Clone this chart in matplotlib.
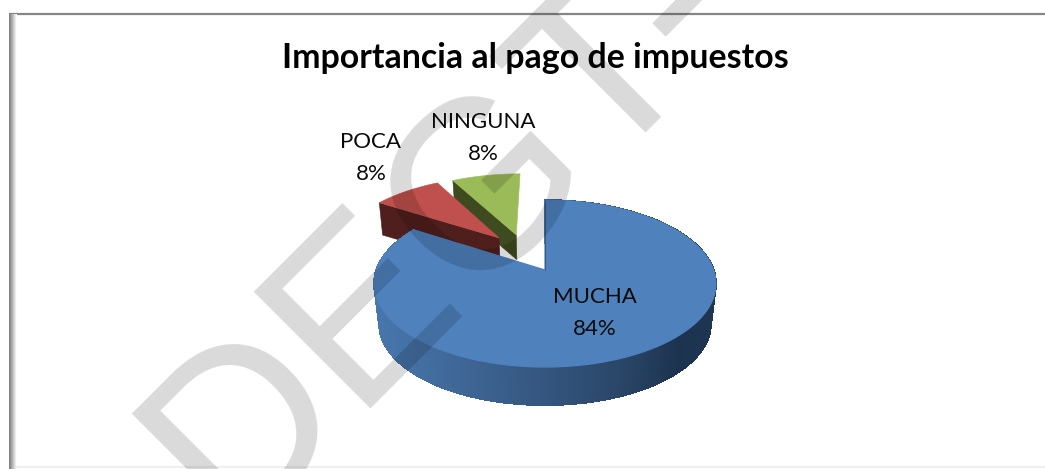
import numpy as np
import matplotlib
matplotlib.use("Agg")
import matplotlib.pyplot as plt
from matplotlib.patches import Polygon, Rectangle
from matplotlib.colors import to_rgb

categories = ["MUCHA", "POCA", "NINGUNA"]
values = [84, 8, 8]
title = "Importancia al pago de impuestos"
watermark = "DEGT-"

# layout / style
CX, CY = 545.0, 270.0
RX, RY, K = 168.7, 81.3, 0.162
top_colors = ["#4f81bd", "#c0504d", "#9bbb59"]
side_colors = ["#1f3550", "#4f1f1d", "#3e4a20"]
offsets = [(0, 0), (-0.29, 0.42), (-0.183, 0.463)]
depths = [41, 31, 24]
scales = [0.97, 0.98, 0.98]
label_pos = [(595, 313), (371, 158), (483, 138)]

fig = plt.figure(figsize=(10.45, 4.69), dpi=100)
ax = fig.add_axes([0, 0, 1, 1])
ax.set_xlim(0, 1045)
ax.set_ylim(469, 0)
ax.axis("off")


def project(u, v, depth=0.0, s=1.0):
    w = 1 + K * v
    return CX + s * RX * u / w, CY + depth - s * RY * v / w


def rim(a0, a1, off, n=120):
    a = np.radians(np.linspace(a0, a1, n))
    return np.sin(a) + off[0], np.cos(a) + off[1]


# slice angles, clockwise from 12 o'clock
edges = np.concatenate([[0], np.cumsum(values)]) / sum(values) * 360


def sector_xy(i, depth=0.0, s=1.0):
    u, v = rim(edges[i], edges[i + 1], offsets[i])
    u = np.concatenate([[offsets[i][0]], u])
    v = np.concatenate([[offsets[i][1]], v])
    x, y = project(u, v, depth, s)
    return np.column_stack([x, y])


# exploded slices, far first
for i in (2, 1):
    d, s = depths[i], scales[i]
    u0, v0 = offsets[i]
    ue, ve = rim(edges[i], edges[i], offsets[i], 1)
    a = project(u0, v0)
    b = project(ue[0], ve[0])
    c = project(ue[0], ve[0], d, s)
    e = project(u0, v0, d, s)
    ax.add_patch(Polygon([a, b, c, e], closed=True, fc=side_colors[i], ec=side_colors[i], lw=0.4, zorder=2 + (3 - i)))
    xy = sector_xy(i)
    ax.add_patch(Polygon(xy, closed=True, fc=top_colors[i], ec=top_colors[i], lw=0.4, zorder=2.5 + (3 - i)))

# main slice: side wall as graded strips
grad_x = [375, 500, 620, 680, 717]
grad_c = np.array([to_rgb(c) for c in ["#4877ad", "#3a5f8c", "#2a4668", "#1c3350", "#1f3550"]])
u, v = rim(edges[0], edges[1], offsets[0], 300)
xt, yt = project(u, v)
xb, yb = project(u, v, depths[0], scales[0])
order = np.argsort(-v[:-1])
for j in order:
    mx = (xt[j] + xt[j + 1]) / 2
    col = [np.interp(mx, grad_x, grad_c[:, k]) for k in range(3)]
    ax.add_patch(Polygon([(xt[j], yt[j]), (xt[j + 1], yt[j + 1]), (xb[j + 1], yb[j + 1]), (xb[j], yb[j])],
                         closed=True, fc=col, ec=col, lw=0.6, antialiased=False, zorder=6))
xy = sector_xy(0)
ax.add_patch(Polygon(xy, closed=True, fc=top_colors[0], ec=top_colors[0], lw=0.9, zorder=7))
x0, y0 = project(0, 0)
x1, y1 = project(0, 1)
ax.plot([x0 - 0.5, x1 - 0.5], [y0, y1], color="#1f3550", lw=0.5, alpha=0.7, zorder=7.5)

# labels
for name, val, (lx, ly) in zip(categories, values, label_pos):
    ax.text(lx, ly, f"{name}\n{val}%", ha="center", va="center", family="Lato", fontsize=16,
            linespacing=1.7, color="#0a0a0a", zorder=9)

ax.text(535, 58, title, ha="center", va="center", family="Lato", fontsize=24.4, fontweight="bold",
        color="black", zorder=9)

# chart frame
ax.plot([9, 1045], [14, 14], color="#868686", lw=1.6, zorder=1, solid_capstyle="butt")
for n in range(8):
    g = 0.5 + n * 0.07
    ax.add_patch(Rectangle((9 + n, 14), 1, 455, fc=(g, g, g), ec="none", zorder=1))
ax.plot([17, 1045], [467.5, 467.5], color="#efefef", lw=1.5, zorder=1)

# watermark
ax.text(229, 531, watermark, rotation=45, rotation_mode="anchor", ha="left", va="baseline",
        family="Liberation Sans", fontsize=173, color="black", alpha=0.15, zorder=10, clip_on=True)

fig.savefig("out.png", dpi=100)
